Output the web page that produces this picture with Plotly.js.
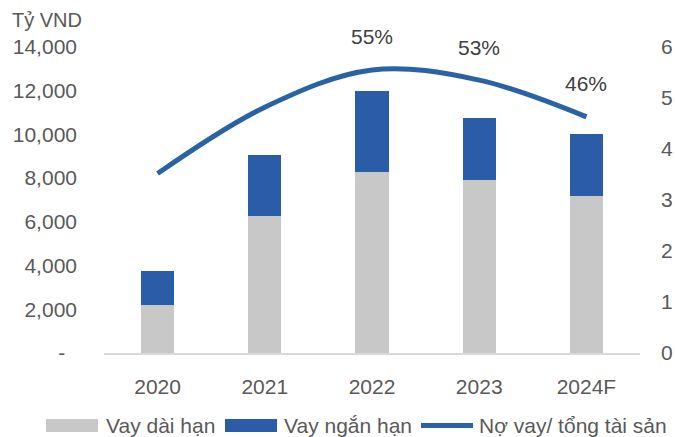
<!DOCTYPE html>
<html>
<head>
<meta charset="utf-8">
<script src="https://cdn.plot.ly/plotly-3.0.1.min.js"></script>
<style>html,body{margin:0;padding:0;background:#fff;}#chart{width:675px;height:437px;}</style>
</head>
<body>
<div id="chart"></div>
<script>
const categories = ["2020", "2021", "2022", "2023", "2024F"];
const longTerm = [2200, 6250, 8300, 7920, 7170];
const shortTerm = [1570, 2800, 3700, 2820, 2840];
const debtRatio = [3.52, 4.82, 5.55, 5.35, 4.63];
const ratioLabels = ["", "", "55%", "53%", "46%"];
const leftTickVals = [0, 2000, 4000, 6000, 8000, 10000, 12000, 14000];
const leftTickText = ["-\u00a0\u00a0", "2,000", "4,000", "6,000", "8,000", "10,000", "12,000", "14,000"];
const rightTickVals = [0, 1, 2, 3, 4, 5, 6];
const legendNames = ["Vay dài hạn", "Vay ngắn hạn", "Nợ vay/ tổng tài sản"];

const GRAY = "#c8c8c8", BLUE = "#2b5ca8", LINEC = "#2a62a6", TXT = "#595959";
const FONT = "Liberation Sans, Arial, sans-serif";

const traces = [
  {type: "bar", x: categories, y: longTerm, name: legendNames[0], marker: {color: GRAY}, showlegend: false, hoverinfo: "skip"},
  {type: "bar", x: categories, y: shortTerm, name: legendNames[1], marker: {color: BLUE}, showlegend: false, hoverinfo: "skip"},
  {type: "scatter", mode: "lines", x: categories, y: debtRatio, yaxis: "y2", name: legendNames[2],
   line: {color: LINEC, width: 5, shape: "spline", smoothing: 1}, showlegend: false, cliponaxis: false, hoverinfo: "skip"}
];

// pixel -> paper coords
const L = 104, R = 640, T = 47, B = 353;
const px = p => (p - L) / (R - L);
const py = p => (B - p) / (B - T);

const annotations = [];
categories.forEach((c, i) => {
  if (ratioLabels[i]) annotations.push({x: i, y: debtRatio[i], xref: "x", yref: "y2", text: ratioLabels[i],
    showarrow: false, yshift: 33, font: {family: FONT, size: 21, color: "#404040"}});
});
annotations.push({x: px(10), y: py(20), xref: "paper", yref: "paper", text: "Tỷ VND", showarrow: false,
  xanchor: "left", yanchor: "middle", font: {family: FONT, size: 20, color: TXT}});

const legendText = [
  {t: legendNames[0], x: 104},
  {t: legendNames[1], x: 282},
  {t: legendNames[2], x: 477}
];
legendText.forEach(l => annotations.push({x: px(l.x), y: py(425), xref: "paper", yref: "paper", text: l.t,
  showarrow: false, xanchor: "left", yanchor: "middle", font: {family: FONT, size: 21, color: TXT}}));

const shapes = [
  {type: "rect", xref: "paper", yref: "paper", x0: px(46), x1: px(98), y0: py(432), y1: py(419), fillcolor: GRAY, line: {width: 0}},
  {type: "rect", xref: "paper", yref: "paper", x0: px(225), x1: px(277), y0: py(432), y1: py(419), fillcolor: BLUE, line: {width: 0}},
  {type: "line", xref: "paper", yref: "paper", x0: px(421), x1: px(473), y0: py(425.5), y1: py(425.5), line: {color: LINEC, width: 5}}
];

const layout = {
  width: 675, height: 437,
  margin: {l: L, r: 675 - R, t: T, b: 437 - B, pad: 0},
  paper_bgcolor: "#fff", plot_bgcolor: "#fff",
  barmode: "stack", bargap: 0.69,
  font: {family: FONT, size: 21, color: TXT},
  showlegend: false,
  xaxis: {type: "category", range: [-0.5, 4.5], showgrid: false, zeroline: false, showline: true, linecolor: "#d9d9d9", linewidth: 1.5,
    ticks: "", tickfont: {family: FONT, size: 21, color: TXT}, ticklabelstandoff: 14, fixedrange: true},
  yaxis: {range: [0, 14000], tickvals: leftTickVals, ticktext: leftTickText, showgrid: false, zeroline: false,
    showline: false, ticks: "", tickfont: {family: FONT, size: 21, color: TXT}, ticklabelstandoff: 26, fixedrange: true},
  yaxis2: {range: [0, 6], tickvals: rightTickVals, overlaying: "y", side: "right", showgrid: false, zeroline: false,
    showline: false, ticks: "", tickfont: {family: FONT, size: 21, color: TXT}, ticklabelstandoff: 20, fixedrange: true},
  annotations: annotations,
  shapes: shapes
};

Plotly.newPlot("chart", traces, layout, {displayModeBar: false, staticPlot: true});
</script>
</body>
</html>
